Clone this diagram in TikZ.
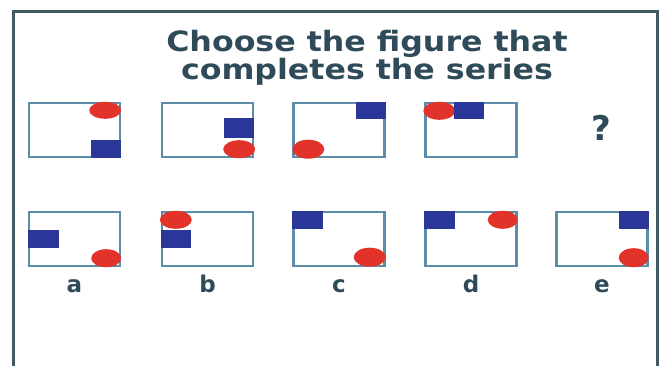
\documentclass[tikz,border=0pt]{standalone}
\usepackage{fontspec}
\setmainfont{DejaVu Sans}
\usepackage{graphicx}
\usetikzlibrary{positioning,calc}

\definecolor{framegray}{HTML}{3F5A63}
\definecolor{boxline}{HTML}{5B8DAA}
\definecolor{sqblue}{HTML}{2A3799}
\definecolor{dotred}{HTML}{E2332B}
\definecolor{inkslate}{HTML}{2F4B5A}

\tikzset{
  panel/.style={draw=boxline, line width=2.4pt, minimum width=91pt, minimum height=54pt, inner sep=0pt},
  bluesq/.style={fill=sqblue},
  reddot/.style={fill=dotred},
  lbl/.style={font=\bfseries\fontsize{23}{24}\selectfont, text=inkslate, text height=16pt, text depth=0pt, inner sep=0pt}
}

\begin{document}
\begin{tikzpicture}[x=1pt,y=1pt]
  \useasboundingbox (0,0) rectangle (661,366);
  \draw[framegray, line width=3pt] (13.5,-4) -- (13.5,354) -- (657.5,354) -- (657.5,-4);

  \node[font=\bfseries\fontsize{28}{27}\selectfont, text=inkslate, align=center] (title) at (367,308)
    {\scalebox{1.13}[1]{Choose the figure that}\\\scalebox{1.13}[1]{completes the series}};

  % the series
  \node[panel] (p1) at (74.5,236) {};
  \node[panel] (p2) at (207.5,236) {};
  \node[panel] (p3) at (339,236) {};
  \node[panel] (p4) at (471,236) {};
  \node[font=\bfseries\fontsize{34}{36}\selectfont, text=inkslate] (qm) at (601,238) {?};

  \fill[reddot] ($(p1.north east)+(-16,-8.5)$) ellipse (16 and 8.5);
  \fill[bluesq] (p1.south east) rectangle ++(-30,18);

  \fill[bluesq] ($(p2.north east)+(0,-16)$) rectangle ++(-30,-20);
  \fill[reddot] ($(p2.south east)+(-15,9)$) ellipse (16 and 9);

  \fill[bluesq] (p3.north east) rectangle ++(-30,-17);
  \fill[reddot] ($(p3.south west)+(16,9)$) ellipse (16 and 9.5);

  \fill[reddot] ($(p4.north west)+(15,-9)$) ellipse (16 and 9);
  \fill[bluesq] ($(p4.north west)+(30,0)$) rectangle ++(30,-17);

  % the answers
  \node[panel] (pa) at (74.5,127) {};
  \node[panel] (pb) at (207.5,127) {};
  \node[panel] (pc) at (339,127) {};
  \node[panel] (pd) at (471,127) {};
  \node[panel] (pe) at (602,127) {};

  \fill[bluesq] ($(pa.west)+(0,9)$) rectangle ++(31,-18);
  \fill[reddot] ($(pa.south east)+(-15,9)$) ellipse (15 and 9);

  \fill[reddot] ($(pb.north west)+(15,-9)$) ellipse (16 and 9);
  \fill[bluesq] ($(pb.west)+(0,9)$) rectangle ++(30,-18);

  \fill[bluesq] (pc.north west) rectangle ++(31,-18);
  \fill[reddot] ($(pc.south east)+(-16,10)$) ellipse (16 and 9.5);

  \fill[bluesq] (pd.north west) rectangle ++(31,-18);
  \fill[reddot] ($(pd.north east)+(-15,-9)$) ellipse (15 and 9);

  \fill[bluesq] (pe.north east) rectangle ++(-30,-18);
  \fill[reddot] ($(pe.south east)+(-15,9.5)$) ellipse (15 and 9.5);

  \node[lbl, below=9pt of pa] (la) {a};
  \node[lbl, below=9pt of pb] (lb) {b};
  \node[lbl, below=9pt of pc] (lc) {c};
  \node[lbl, below=9pt of pd] (ld) {d};
  \node[lbl, below=9pt of pe] (le) {e};
\end{tikzpicture}
\end{document}
